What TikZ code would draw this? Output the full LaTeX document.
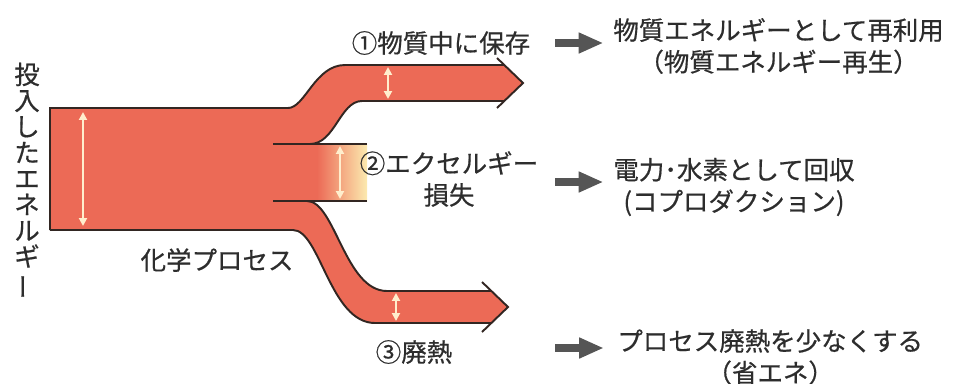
\documentclass[tikz,border=0pt]{standalone}
\usepackage{fontspec}
\setmainfont{Noto Sans CJK JP}[FakeBold=0.6]
\usepackage{xcolor}
\usetikzlibrary{arrows.meta}

\definecolor{bandred}{RGB}{236,106,86}
\definecolor{edgeline}{RGB}{50,38,34}
\definecolor{fadeyellow}{RGB}{252,234,175}
\definecolor{txtgray}{RGB}{45,45,45}
\definecolor{arrowgray}{RGB}{85,85,85}
\definecolor{dimline}{RGB}{255,238,205}

\begin{document}
\begin{tikzpicture}[x=0.02cm, y=-0.02cm,
    jtext/.style={text=txtgray, font=\fontsize{14.5}{18}\selectfont, inner sep=0pt, align=center},
    outline/.style={draw=edgeline, line width=1.1pt},
    pointer/.style={-{Triangle[length=14pt,width=11pt]}, draw=arrowgray, line width=4.8pt},
    dimarrow/.style={{Triangle[length=4.5pt,width=4.5pt]}-{Triangle[length=4.5pt,width=4.5pt]}, draw=dimline, fill=dimline, line width=1.1pt}]
    \useasboundingbox (0,0) rectangle (953,383);

    \fill[bandred] (50,108) -- (288,108) .. controls (305,108) and (315,65) .. (345,65) -- (504,65) -- (523,83) -- (504,101) -- (362,101) .. controls (340,101) and (335,144) .. (310,144) -- (318,144) -- (318,201) -- (307,201) .. controls (335,201) and (345,291) .. (387,291) -- (491,291) -- (508,307) -- (491,323) -- (375,323) .. controls (330,323) and (320,230) .. (293,230) -- (50,230) -- cycle;
    \shade[left color=bandred, middle color=bandred!70!fadeyellow, right color=fadeyellow] (317,144) rectangle (367,201);

    \draw[outline] (50,230) -- (50,108) -- (288,108) .. controls (305,108) and (315,65) .. (345,65) -- (504,65);
    \draw[outline] (497,58) -- (523,83) -- (497,108);
    \draw[outline] (504,101) -- (362,101) .. controls (340,101) and (335,144) .. (310,144);
    \draw[outline] (273,144) -- (367,144);
    \draw[outline] (273,201) -- (367,201);
    \draw[outline] (307,201) .. controls (335,201) and (345,291) .. (387,291) -- (491,291);
    \draw[outline] (482,282) -- (508,307) -- (482,332);
    \draw[outline] (491,323) -- (375,323) .. controls (330,323) and (320,230) .. (293,230) -- (50,230);

    \draw[dimarrow] (83,112) -- (83,226);
    \draw[dimarrow] (388,67) -- (388,99);
    \draw[dimarrow] (340,146) -- (340,199);
    \draw[dimarrow] (396,293) -- (396,321);

    \node[jtext, font=\fontsize{14.5}{14.8}\selectfont] (input) at (27,181) {投\\入\\し\\た\\エ\\ネ\\ル\\ギ\\\rotatebox[origin=c]{90}{ー}};
    \node[jtext] (process) at (217,260) {化学プロセス};
    \node[jtext] (store) at (441,43) {①物質中に保存};
    \node[jtext] (loss) at (449,179) {②エクセルギー\\損失};
    \node[jtext] (waste) at (414,352) {③廃熱};

    \node[jtext, anchor=west] (reuse) at (613,46) {物質エネルギーとして再利用\\（物質エネルギー再生）};
    \node[jtext, anchor=west] (recover) at (613,187) {電力･水素として回収\\(コプロダクション)};
    \node[jtext, anchor=west] (saving) at (617,357) {プロセス廃熱を少なくする\\（省エネ）};

    \coordinate (g1) at (555,43);
    \coordinate (g2) at (555,182);
    \coordinate (g3) at (555,348);
    \draw[pointer, shorten >=5.5pt] (g1) -- (g1 -| reuse.west);
    \draw[pointer, shorten >=5.5pt] (g2) -- (g2 -| recover.west);
    \draw[pointer, shorten >=7.5pt] (g3) -- (g3 -| saving.west);
\end{tikzpicture}
\end{document}
